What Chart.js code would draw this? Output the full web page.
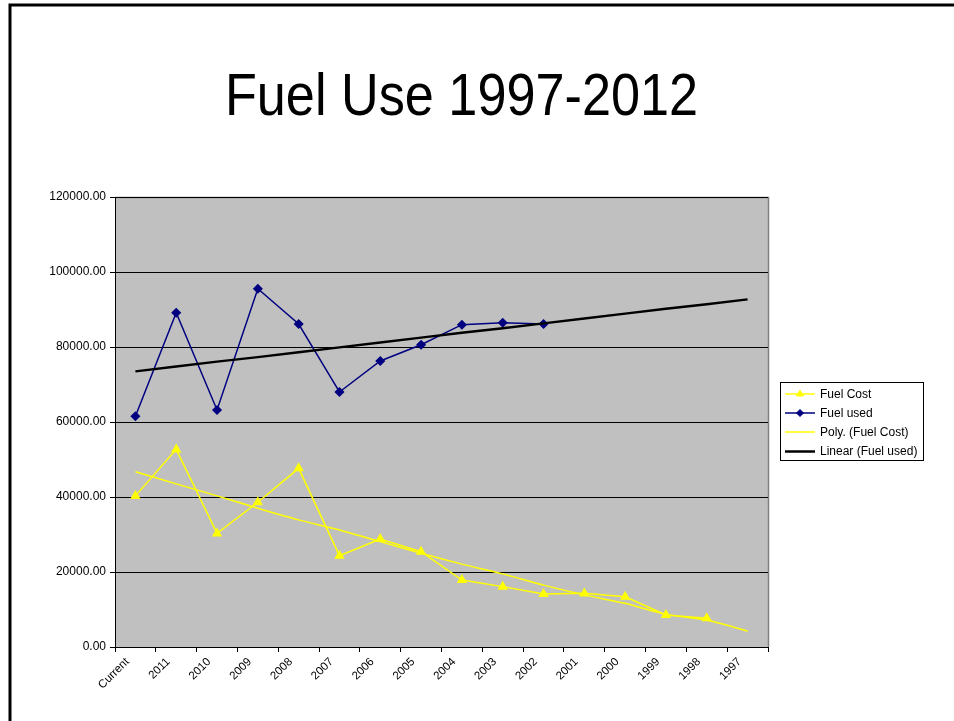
<!DOCTYPE html>
<html>
<head>
<meta charset="utf-8">
<script src="https://cdn.jsdelivr.net/npm/chart.js@4.4.1/dist/chart.umd.min.js"></script>
<style>
  html, body { margin: 0; padding: 0; background: #ffffff; }
  #wrap { width: 954px; height: 721px; position: relative; }
</style>
</head>
<body>
<div id="wrap"><canvas id="c" width="954" height="721"></canvas></div>
<script>
// ---- Data ----
const categories = ["Current", "2011", "2010", "2009", "2008", "2007", "2006", "2005",
                    "2004", "2003", "2002", "2001", "2000", "1999", "1998", "1997"];
const fuelCost = [40300, 52700, 30300, 38600, 47650, 24350, 28800, 25400,
                  17850, 16100, 14130, 14300, 13400, 8530, 7640, null];
const fuelUsed = [61520, 89150, 63200, 95550, 86130, 68000, 76270, 80600,
                  85950, 86480, 86130, null, null, null, null, null];
const polyFuelCost = [46750, 43500, 40300, 37000, 33900, 31200, 28100, 25000,
                      22100, 19500, 16500, 13900, 11650, 8700, 7200, 4270];
const linearFuelUsed = [73500, 74800, 76100, 77300, 78600, 79900, 81200, 82500,
                        83800, 85000, 86300, 87600, 88900, 90200, 91400, 92700];
const yTicks = [0, 20000, 40000, 60000, 80000, 100000, 120000];
const titleText = "Fuel Use 1997-2012";

const FONT = "'Liberation Sans', Arial, Helvetica, sans-serif";

const pagePlugin = {
  id: 'page',
  beforeDraw(chart) {
    const ctx = chart.ctx;
    ctx.save();
    ctx.fillStyle = '#ffffff';
    ctx.fillRect(0, 0, chart.width, chart.height);
    // slide frame
    ctx.strokeStyle = '#000000';
    ctx.lineWidth = 3;
    ctx.beginPath();
    ctx.moveTo(10, 721);
    ctx.lineTo(10, 5);
    ctx.lineTo(954, 5);
    ctx.stroke();
    // title (slightly condensed, as in the reference)
    ctx.fillStyle = '#000000';
    ctx.font = '59px ' + FONT;
    ctx.textAlign = 'center';
    ctx.textBaseline = 'alphabetic';
    ctx.save();
    ctx.translate(461.5, 115);
    ctx.scale(0.885, 1);
    ctx.fillText(titleText, 0, 0);
    ctx.restore();
    // plot area background
    const a = chart.chartArea;
    ctx.fillStyle = '#C0C0C0';
    ctx.fillRect(a.left, a.top, a.right - a.left, a.bottom - a.top);
    ctx.strokeStyle = '#808080';
    ctx.lineWidth = 1.5;
    ctx.beginPath();
    ctx.moveTo(a.left, a.top + 0.5);
    ctx.lineTo(a.right + 0.5, a.top + 0.5);
    ctx.lineTo(a.right + 0.5, a.bottom);
    ctx.stroke();
    ctx.restore();
  },
  afterDraw(chart) {
    const ctx = chart.ctx;
    ctx.save();
    const bx = 780, by = 382, bw = 143, bh = 78;
    ctx.fillStyle = '#ffffff';
    ctx.fillRect(bx, by, bw, bh);
    ctx.strokeStyle = '#000000';
    ctx.lineWidth = 1;
    ctx.strokeRect(bx + 0.5, by + 0.5, bw, bh);
    const rows = [394, 413, 432, 451.5];
    ctx.font = '12px ' + FONT;
    ctx.textAlign = 'left';
    ctx.textBaseline = 'middle';
    chart.data.datasets.forEach((ds, i) => {
      const y = rows[i];
      ctx.strokeStyle = ds.borderColor;
      ctx.lineWidth = ds.borderWidth;
      ctx.beginPath();
      ctx.moveTo(785, y);
      ctx.lineTo(815, y);
      ctx.stroke();
      if (ds.pointRadius > 0) {
        ctx.fillStyle = ds.pointBackgroundColor;
        ctx.strokeStyle = ds.pointBorderColor;
        ctx.lineWidth = 1;
        Chart.helpers.drawPoint(ctx, {
          pointStyle: ds.pointStyle, radius: ds.pointRadius - 0.5, borderWidth: 1, rotation: 0
        }, 800, y);
      }
      ctx.fillStyle = '#000000';
      ctx.fillText(ds.label, 820, y + 0.5);
    });
    ctx.restore();
  }
};

new Chart(document.getElementById('c'), {
  type: 'line',
  data: {
    labels: categories,
    datasets: [
      {
        label: 'Fuel Cost', data: fuelCost,
        borderColor: '#FFFF00', backgroundColor: '#FFFF00',
        pointBackgroundColor: '#FFFF00', pointBorderColor: '#FFFF00',
        borderWidth: 1.5, pointStyle: 'triangle', pointRadius: 4.5,
        tension: 0, spanGaps: false, order: 3
      },
      {
        label: 'Fuel used', data: fuelUsed,
        borderColor: '#000080', backgroundColor: '#000080',
        pointBackgroundColor: '#000080', pointBorderColor: '#000080',
        borderWidth: 1.5, pointStyle: 'rectRot', pointRadius: 4,
        tension: 0, spanGaps: false, order: 4
      },
      {
        label: 'Poly. (Fuel Cost)', data: polyFuelCost,
        borderColor: '#FFFF00', backgroundColor: '#FFFF00',
        pointBackgroundColor: '#FFFF00', pointBorderColor: '#FFFF00',
        borderWidth: 1.5, pointRadius: 0, tension: 0.2, order: 2
      },
      {
        label: 'Linear (Fuel used)', data: linearFuelUsed,
        borderColor: '#000000', backgroundColor: '#000000',
        pointBackgroundColor: '#000000', pointBorderColor: '#000000',
        borderWidth: 2.5, pointRadius: 0, tension: 0, order: 1
      }
    ]
  },
  options: {
    responsive: false,
    animation: false,
    devicePixelRatio: 1,
    layout: { padding: { left: 0, right: 186, top: 197, bottom: 0 } },
    plugins: {
      legend: { display: false },
      title: { display: false },
      tooltip: { enabled: false }
    },
    scales: {
      x: {
        offset: true,
        grid: { offset: true, drawOnChartArea: false, color: '#000000', tickLength: 5, lineWidth: 1 },
        border: { color: '#000000', width: 1 },
        ticks: {
          color: '#000000', font: { family: FONT, size: 11.5 },
          minRotation: 45, maxRotation: 45, autoSkip: false, padding: 3, labelOffset: -8
        },
        afterFit(s) { s.height = 74; }
      },
      y: {
        min: 0, max: 120000,
        afterBuildTicks(s) { s.ticks = yTicks.map(v => ({ value: v })); },
        grid: { color: '#000000', tickLength: 5, lineWidth: 1 },
        border: { color: '#000000', width: 1 },
        ticks: {
          color: '#000000', font: { family: FONT, size: 12 }, padding: 4,
          callback: (v) => Number(v).toFixed(2)
        },
        afterFit(s) { s.width = 115; }
      }
    }
  },
  plugins: [pagePlugin]
});
</script>
</body>
</html>
